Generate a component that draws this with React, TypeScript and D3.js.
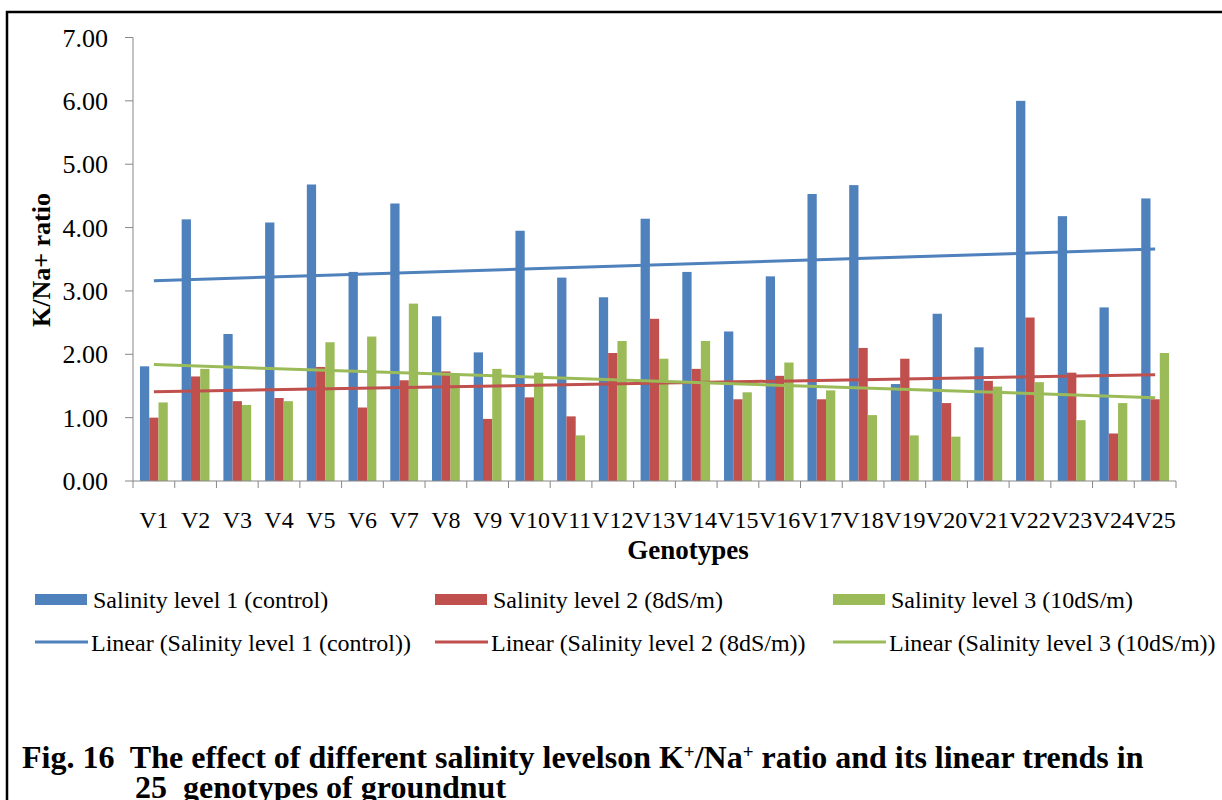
import React from "react";
import * as d3 from "d3";

const categories = ["V1","V2","V3","V4","V5","V6","V7","V8","V9","V10","V11","V12","V13","V14","V15","V16","V17","V18","V19","V20","V21","V22","V23","V24","V25"];
const level1 = [1.81,4.13,2.32,4.08,4.68,3.30,4.38,2.60,2.03,3.95,3.21,2.90,4.14,3.30,2.36,3.23,4.53,4.67,1.53,2.64,2.11,6.00,4.18,2.74,4.46];
const level2 = [1.00,1.65,1.26,1.31,1.80,1.16,1.59,1.73,0.98,1.32,1.02,2.02,2.56,1.77,1.29,1.66,1.29,2.10,1.93,1.23,1.58,2.58,1.71,0.75,1.29];
const level3 = [1.24,1.77,1.20,1.26,2.19,2.28,2.80,1.70,1.77,1.71,0.72,2.21,1.93,2.21,1.40,1.87,1.43,1.04,0.72,0.70,1.49,1.56,0.96,1.23,2.02];
const seriesNames = ["Salinity level 1 (control)", "Salinity level 2 (8dS/m)", "Salinity level 3 (10dS/m)"];
const seriesColors = ["#4F81BD", "#C0504D", "#9BBB59"];
const yTicks = [0, 1, 2, 3, 4, 5, 6, 7];

const seriesValues = [level1, level2, level3];

function linearFit(vals: number[]) {
  const n = vals.length;
  const xs = vals.map((_, i) => i + 1);
  const mx = d3.mean(xs)!;
  const my = d3.mean(vals)!;
  let num = 0, den = 0;
  for (let i = 0; i < n; i++) { num += (xs[i] - mx) * (vals[i] - my); den += (xs[i] - mx) ** 2; }
  const slope = num / den;
  const intercept = my - slope * mx;
  return (x: number) => intercept + slope * x;
}

export default function App() {
  const W = 1222, H = 800;
  const left = 133, right = 1176, top = 37.5, bottom = 481;
  const x = d3.scaleBand<string>().domain(categories).range([left, right]).paddingInner(0).paddingOuter(0);
  const x1 = d3.scaleBand<string>().domain(["0", "1", "2"]).range([0, x.bandwidth()]).paddingInner(0).paddingOuter(0.75);
  const y = d3.scaleLinear().domain([0, 7]).range([bottom, top]);
  const fmt = d3.format(".2f");
  const serif = "'Liberation Serif', 'Times New Roman', serif";
  const line = d3.line<[number, number]>().x(d => d[0]).y(d => d[1]);

  const legendCols = [35, 435, 833];

  return (
    <svg width={W} height={H} style={{ position: "absolute", left: 0, top: 0, background: "#fff" }} fontFamily={serif}>
      <rect x={0} y={0} width={W} height={H} fill="#fff" />
      <rect x={7} y={12} width={1240} height={820} fill="none" stroke="#000" strokeWidth={2.5} />

      {/* bars */}
      {seriesValues.map((vals, s) => (
        <g key={s} fill={seriesColors[s]}>
          {vals.map((v, i) => (
            <rect key={i} x={x(categories[i])! + x1(String(s))!} y={y(v)} width={x1.bandwidth()} height={y(0) - y(v)} />
          ))}
        </g>
      ))}

      {/* trend lines */}
      {seriesValues.map((vals, s) => {
        const f = linearFit(vals);
        const x0 = x(categories[0])! + x.bandwidth() / 2;
        const xN = x(categories[categories.length - 1])! + x.bandwidth() / 2;
        return (
          <path key={s} d={line([[x0, y(f(1))], [xN, y(f(vals.length))]])!} stroke={seriesColors[s]} strokeWidth={3} fill="none" />
        );
      })}

      {/* y axis */}
      <line x1={left} x2={left} y1={top} y2={bottom} stroke="#868686" strokeWidth={1} />
      {yTicks.map(t => (
        <g key={t}>
          <line x1={left - 8} x2={left} y1={y(t)} y2={y(t)} stroke="#868686" strokeWidth={1} />
          <text x={108} y={y(t)} dy="0.35em" textAnchor="end" fontSize={26} fill="#000">{fmt(t)}</text>
        </g>
      ))}

      {/* x axis */}
      <line x1={left} x2={right} y1={bottom} y2={bottom} stroke="#868686" strokeWidth={1} />
      {categories.map((c, i) => (
        <line key={"t" + i} x1={x(c)!} x2={x(c)!} y1={bottom} y2={bottom + 7} stroke="#868686" strokeWidth={1} />
      ))}
      <line x1={right} x2={right} y1={bottom} y2={bottom + 7} stroke="#868686" strokeWidth={1} />
      {categories.map(c => (
        <text key={c} x={x(c)! + x.bandwidth() / 2} y={528} textAnchor="middle" fontSize={24} fill="#000">{c}</text>
      ))}

      {/* axis titles */}
      <text x={688} y={559} textAnchor="middle" fontSize={27} fontWeight="bold" fill="#000">Genotypes</text>
      <text transform="translate(50,260) rotate(-90)" textAnchor="middle" fontSize={26} fontWeight="bold" fill="#000">K/Na+ ratio</text>

      {/* legend */}
      {seriesNames.map((n, s) => (
        <g key={"lg" + s}>
          <rect x={legendCols[s]} y={594} width={52} height={11} fill={seriesColors[s]} />
          <text x={legendCols[s] + 58} y={608} fontSize={24} fill="#000">{n}</text>
          <line x1={legendCols[s]} x2={legendCols[s] + 53} y1={642} y2={642} stroke={seriesColors[s]} strokeWidth={3} />
          <text x={legendCols[s] + 56} y={651} fontSize={24} fill="#000">{`Linear (${n})`}</text>
        </g>
      ))}

      {/* caption */}
      <text x={22} y={768} fontSize={32} fontWeight="bold" fill="#000" xmlSpace="preserve">
        <tspan>{"Fig. 16  The effect of different salinity levelson K"}</tspan>
        <tspan baselineShift="super" fontSize={19}>+</tspan>
        <tspan>/Na</tspan>
        <tspan baselineShift="super" fontSize={19}>+</tspan>
        <tspan> ratio and its linear trends in</tspan>
      </text>
      <text x={135} y={798} fontSize={32} fontWeight="bold" fill="#000" xmlSpace="preserve">{"25  genotypes of groundnut"}</text>
    </svg>
  );
}
